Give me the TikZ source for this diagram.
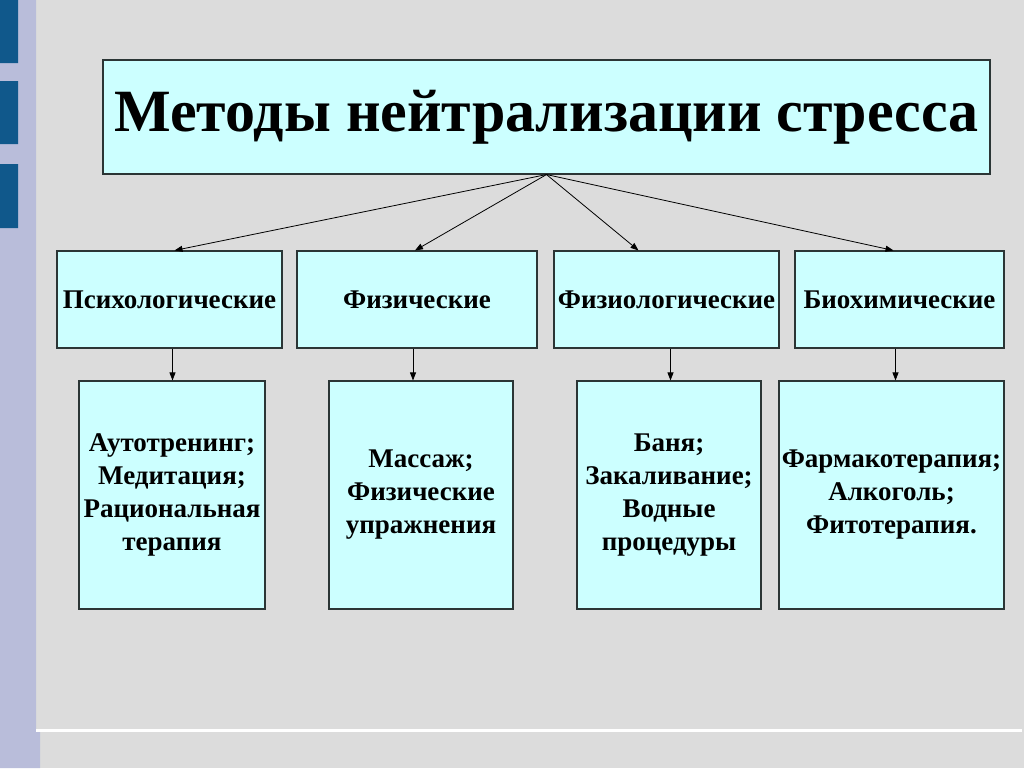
\documentclass[tikz,border=0pt]{standalone}
\usepackage{fontspec}
\setmainfont{Liberation Serif}
\usetikzlibrary{positioning,arrows.meta}
\definecolor{slidegray}{HTML}{DCDCDC}
\definecolor{striplav}{HTML}{B9BDDA}
\definecolor{barblue}{HTML}{10588B}
\definecolor{boxcyan}{HTML}{CCFFFF}
\definecolor{boxline}{HTML}{2B3535}

\begin{document}
\begin{tikzpicture}[x=1pt,y=-1pt,inner sep=0pt,
	box/.style={draw=boxline,line width=1.1pt,fill=boxcyan,align=center,font=\fontsize{27}{33}\selectfont\bfseries},
	tip/.style={-{Triangle[length=8pt,width=6pt]},line width=0.8pt}]
	\useasboundingbox (0,0) rectangle (1024,768);
	\fill[slidegray] (0,0) rectangle (1024,768);
	\fill[striplav] (0,0) rectangle (36,730) (0,730) rectangle (40,768);
	\fill[barblue] (0,0) rectangle (18,63) (0,81) rectangle (18,144) (0,164) rectangle (18,228);
	\fill[white] (36,729) rectangle (1022,732);
	\node [box,minimum width=887pt,minimum height=114pt,font=\fontsize{60}{70}\selectfont\bfseries] (methods) at (546.5,117) {Методы нейтрализации стресса};
	\node [box,minimum width=225pt,minimum height=97pt] (psych) at (169.5,299.5) {Психологические};
	\node [box,minimum width=240pt,minimum height=97pt] (phys) at (417,299.5) {Физические};
	\node [box,minimum width=225pt,minimum height=97pt] (physiol) at (666.5,299.5) {Физиологические};
	\node [box,minimum width=209pt,minimum height=97pt] (biochem) at (899.5,299.5) {Биохимические};
	\node [box,minimum width=186pt,minimum height=228pt] (autotr) at (172,495) {Аутотренинг;\\Медитация;\\Рациональная\\терапия};
	\node [box,minimum width=184pt,minimum height=228pt] (massage) at (421,495) {Массаж;\\Физические\\упражнения};
	\node [box,minimum width=184pt,minimum height=228pt] (bath) at (669,495) {Баня;\\Закаливание;\\Водные\\процедуры};
	\node [box,minimum width=225pt,minimum height=228pt] (pharma) at (891.5,495) {Фармакотерапия;\\Алкоголь;\\Фитотерапия.};
	\path [tip]
	(methods.south) edge ([xshift=5pt]psych.north)
	(methods.south) edge ([xshift=-2pt]phys.north)
	(methods.south) edge ([xshift=-28pt]physiol.north)
	(methods.south) edge ([xshift=-6pt]biochem.north)
	([xshift=3pt]psych.south) edge ([xshift=3pt]psych.south |- autotr.north)
	([xshift=-4pt]phys.south) edge ([xshift=-4pt]phys.south |- massage.north)
	([xshift=4pt]physiol.south) edge ([xshift=4pt]physiol.south |- bath.north)
	([xshift=-4pt]biochem.south) edge ([xshift=-4pt]biochem.south |- pharma.north);
\end{tikzpicture}
\end{document}
